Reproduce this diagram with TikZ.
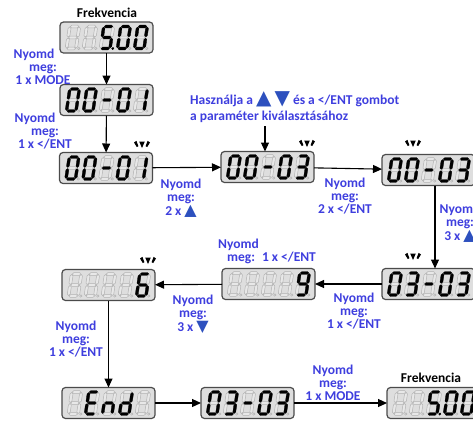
\documentclass[tikz,border=0pt]{standalone}
\usepackage{fontspec}
\setmainfont{Carlito}
\newfontfamily\symf{DejaVu Sans}
\usetikzlibrary{arrows.meta}
\definecolor{lblue}{RGB}{62,62,222}
\definecolor{tblue}{RGB}{45,80,190}
\definecolor{boxfill}{RGB}{222,222,222}
\definecolor{boxline}{RGB}{75,75,75}
\definecolor{ghostfill}{RGB}{232,232,232}
\definecolor{ghostline}{RGB}{178,178,178}
\makeatletter
\def\hassg#1#2{\begingroup\edef\x{\endgroup\noexpand\in@{#1}{#2}}\x
  \ifin@\tikzset{cur/.style={on}}\else\tikzset{cur/.style={off}}\fi}
\makeatother
\def\segt{1.45}
\newcommand\hseg[3]{\path[cur] (#1,#3) -- ({#1+\segt},{#3+\segt}) -- ({#2-\segt},{#3+\segt}) -- (#2,#3) -- ({#2-\segt},{#3-\segt}) -- ({#1+\segt},{#3-\segt}) -- cycle;}
\newcommand\vseg[3]{\path[cur] (#1,#2) -- ({#1+\segt},{#2+\segt}) -- ({#1+\segt},{#3-\segt}) -- (#1,#3) -- ({#1-\segt},{#3-\segt}) -- ({#1-\segt},{#2+\segt}) -- cycle;}
\newcommand\sdig[3]{%
 \begin{scope}[shift={(#1.south west)}, shift={({6.5+17*#2},4.5)}, xslant=0.15]
  \hassg{a}{#3}\hseg{0.5}{9}{22}
  \hassg{b}{#3}\vseg{9.5}{11.5}{21.5}
  \hassg{c}{#3}\vseg{9.5}{0.5}{10.5}
  \hassg{d}{#3}\hseg{0.5}{9}{0}
  \hassg{e}{#3}\vseg{0}{0.5}{10.5}
  \hassg{f}{#3}\vseg{0}{11.5}{21.5}
  \hassg{g}{#3}\hseg{0.5}{9}{11}
  \hassg{p}{#3}\path[cur] (12.3,0) circle (1.2);
 \end{scope}}
\newcommand\disp[3]{\node[dispbox] (#1) at (#2) {};
  \foreach \pp [count=\ii from 0] in {#3} {\sdig{#1}{\ii}{\pp}}}
\newcommand\blink[1]{\begin{scope}[shift={(#1)}]
  \fill (-2.8,0.5) -- (2.8,0.5) -- (0,-6) -- cycle;
  \fill (-8,-0.5) -- (-5.6,1.2) -- (-3.6,-4.2) -- (-5.2,-5) -- cycle;
  \fill (8,-0.5) -- (5.6,1.2) -- (3.6,-4.2) -- (5.2,-5) -- cycle;
 \end{scope}}
\newcommand\upt[1]{{\symf\fontsize{#1}{#1}\selectfont\color{tblue}▲}}
\newcommand\dnt[1]{{\symf\fontsize{#1}{#1}\selectfont\color{tblue}▼}}
\begin{document}
\begin{tikzpicture}[x=1pt,y=1pt,
  on/.style={fill=black, draw=black, line width=0.3pt},
  off/.style={fill=ghostfill, draw=ghostline, line width=0.5pt},
  dispbox/.style={draw=boxline, fill=boxfill, line width=1.2pt, rounded corners=3.5pt, minimum width=93pt, minimum height=31pt, inner sep=0pt, outer sep=0pt},
  arr/.style={-{Triangle[length=9pt,width=8pt]}, line width=1.1pt},
  lbl/.style={text=lblue, font=\bfseries\fontsize{13.5}{13}\selectfont, align=center, inner sep=0pt},
  ttl/.style={text=black, font=\bfseries\fontsize{13.5}{14}\selectfont, inner sep=0pt}]
\useasboundingbox (0,-424) rectangle (473,0);
\clip (0,-424) rectangle (473,0);
% displays
\disp{D1}{106.5,-37.5}{x,x,acdfgp,abcdef,abcdef}
\disp{D2}{106.5,-100}{abcdef,abcdef,g,abcdef,bc}
\disp{D3}{106,-168}{abcdef,abcdef,g,abcdef,bc}
\disp{D4}{267.5,-167}{abcdef,abcdef,g,abcdef,abcdg}
\disp{D5}{428.5,-170}{abcdef,abcdef,g,abcdef,abcdg}
\disp{D6}{428.5,-284}{abcdef,abcdg,g,abcdef,abcdg}
\disp{D7}{268.5,-284}{x,x,x,x,abcdfg}
\disp{D8}{108.5,-285}{x,x,x,x,acdefg}
\disp{D9}{108.5,-403}{x,adefg,ceg,bcdeg,x}
\disp{D10}{247.5,-403}{abcdef,abcdg,g,abcdef,abcdg}
\disp{D11}{433.5,-403}{x,x,acdfgp,abcdef,abcdef}
% blink marks
\blink{142,-142}
\blink{307,-141}
\blink{413,-141}
\blink{413,-254}
\blink{148,-258}
% titles
\node[ttl] (T1) at (107,-13) {Frekvencia};
\node[ttl] (T2) at (431,-378) {Frekvencia};
% instruction
\node[lbl, align=left, anchor=west] (H) at (190,-107) {Használja a \upt{20} \dnt{20} és a </ENT gombot\\[2.5pt]a paraméter kiválasztásához};
\coordinate (hint) at (265,-126);
% arrows
\draw[arr] (D1) -- (D2);
\draw[arr] (D2) -- (D3);
\draw[arr] (D3) -- (D4);
\draw[arr] (D4) -- (D5);
\draw[arr] ([xshift=6.5pt]D5.south) -- ([xshift=6.5pt]D6.north);
\draw[arr] (D6) -- (D7);
\draw[arr] (D7) -- (D8);
\draw[arr] (D8) -- (D9);
\draw[arr] (D9) -- (D10);
\draw[arr] (D10) -- (D11);
\draw[arr] (hint) -- (hint |- D4.north);
% labels
\node[lbl] (L1) at (43,-67) {Nyomd\hspace*{18pt}\\meg:\hspace*{14pt}\\1 x MODE};
\node[lbl] (L2) at (45,-131) {Nyomd\hspace*{20pt}\\meg:\hspace*{22pt}\\1 x </ENT};
\node[lbl] (L3) at (181,-198) {Nyomd\\meg:\\[1.5pt]2 x \upt{16}};
\node[lbl] (L4) at (345,-196) {Nyomd\\meg:\\2 x </ENT};
\node[lbl] (L5) at (460,-223) {Nyomd\\meg:\\[1.5pt]3 x \upt{16}};
\node[lbl, align=left, anchor=west] (L6) at (218,-251) {Nyomd\\\hspace*{9pt}meg:\hspace{7pt}1 x </ENT};
\node[lbl] (L7) at (354,-311) {Nyomd\\meg:\\1 x </ENT};
\node[lbl] (L8) at (193,-314) {Nyomd\\meg:\\[1.5pt]3 x \dnt{16}};
\node[lbl] (L9) at (76,-339) {Nyomd\\meg:\\1 x </ENT};
\node[lbl] (L10) at (333,-383) {Nyomd\\meg:\\1 x MODE};
\end{tikzpicture}
\end{document}
